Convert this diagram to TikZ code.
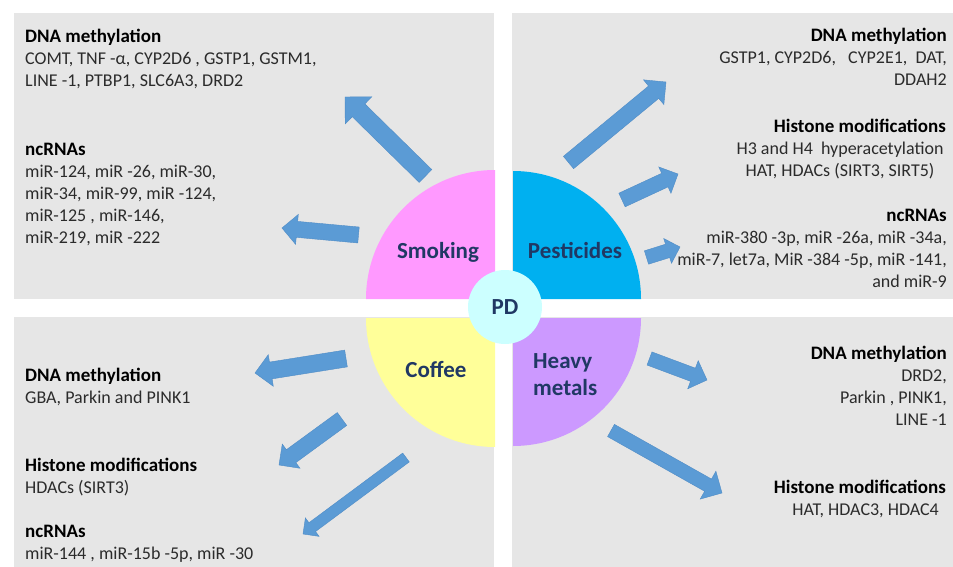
\documentclass[tikz,border=0pt]{standalone}
\usepackage{fontspec}
\setmainfont{Carlito}
\usetikzlibrary{calc}

\definecolor{panelgray}{HTML}{E6E6E6}
\definecolor{smokepink}{HTML}{FF99FF}
\definecolor{pestblue}{HTML}{00B0F0}
\definecolor{coffeeyellow}{HTML}{FFFF99}
\definecolor{metalpurple}{HTML}{CC99FF}
\definecolor{pdcyan}{HTML}{CCFFFF}
\definecolor{arrowblue}{HTML}{5B9BD5}
\definecolor{arrowedge}{HTML}{4F8CC6}
\definecolor{labelnavy}{HTML}{203864}
\definecolor{bodygray}{HTML}{2B2B2B}

\newcommand{\headtxt}[1]{{\fontsize{19}{22}\selectfont\bfseries\color{black}#1}}

% tail, tip, half shaft width, half head width
\newcommand{\blockarrow}[4]{%
	\coordinate (hb) at ($(#2)!#4!(#1)$);
	\filldraw[bluearrow] ($(#1)!#3!90:(#2)$) -- ($(hb)!#3!90:(#2)$) -- ($(hb)!#4!90:(#2)$) -- (#2)
		-- ($(hb)!#4!-90:(#2)$) -- ($(hb)!#3!-90:(#2)$) -- ($(#1)!#3!-90:(#2)$) -- cycle;
}

\begin{document}
\begin{tikzpicture}[x=1pt, y=-1pt,
	panel/.style={fill=panelgray},
	bluearrow/.style={fill=arrowblue, draw=arrowedge, line width=0.4pt},
	factor/.style={font=\fontsize{23}{27}\selectfont\bfseries, text=labelnavy, inner sep=0pt},
	listtext/.style={font=\fontsize{18}{22}\selectfont, text=bodygray, inner sep=0pt}]
	
	\useasboundingbox (0,0) rectangle (953,567);
	
	\fill[panel] (14,13) rectangle (494,299);
	\fill[panel] (512,13) rectangle (953,299);
	\fill[panel] (14,317) rectangle (494,567);
	\fill[panel] (512,317) rectangle (953,567);
	
	\fill[smokepink] (495,299) -- (366,299) arc[start angle=180, end angle=90, radius=129pt] -- cycle;
	\fill[pestblue] (513,299) -- (513,171) arc[start angle=90, end angle=0, radius=128pt] -- cycle;
	\fill[coffeeyellow] (495,318) -- (366,318) arc[start angle=180, end angle=270, radius=129pt] -- cycle;
	\fill[metalpurple] (513,318) -- (641,318) arc[start angle=0, end angle=-90, radius=128pt] -- cycle;
	
	\node[factor, anchor=base] (smoking) at (438,258) {Smoking};
	\node[factor, anchor=base] (pesticides) at (575,258) {Pesticides};
	\node[factor, anchor=base] (coffee) at (436,377) {Coffee};
	\node[factor, anchor=base west, align=left] (metals) at (533,395) {Heavy\\metals};
	\node[factor, circle, fill=pdcyan, minimum size=74pt] (pd) at (505,307) {PD};
	
	\coordinate (smoke1tail) at (425.5,176);
	\coordinate (smoke1tip) at (345,97);
	\coordinate (smoke2tail) at (358.5,235);
	\coordinate (smoke2tip) at (282,228);
	\coordinate (pest1tail) at (568.5,162.5);
	\coordinate (pest1tip) at (666,82);
	\coordinate (pest2tail) at (622,200);
	\coordinate (pest2tip) at (678,174);
	\coordinate (pest3tail) at (646.5,257.5);
	\coordinate (pest3tip) at (680,247);
	\coordinate (coffee1tail) at (346,358.5);
	\coordinate (coffee1tip) at (255,373);
	\coordinate (coffee2tail) at (342,419);
	\coordinate (coffee2tip) at (279,465);
	\coordinate (coffee3tail) at (406,457.5);
	\coordinate (coffee3tip) at (303,534);
	\coordinate (metal1tail) at (649.5,358.5);
	\coordinate (metal1tip) at (707,380);
	\coordinate (metal2tail) at (611,430.5);
	\coordinate (metal2tip) at (722,493);
	
	\blockarrow{smoke1tail}{smoke1tip}{9pt}{19pt}
	\blockarrow{smoke2tail}{smoke2tip}{8pt}{15pt}
	\blockarrow{pest1tail}{pest1tip}{8pt}{16pt}
	\blockarrow{pest2tail}{pest2tip}{7.5pt}{14.5pt}
	\blockarrow{pest3tail}{pest3tip}{7pt}{13pt}
	\blockarrow{coffee1tail}{coffee1tip}{8.5pt}{16pt}
	\blockarrow{coffee2tail}{coffee2tip}{8pt}{15pt}
	\blockarrow{coffee3tail}{coffee3tip}{5.5pt}{11.5pt}
	\blockarrow{metal1tail}{metal1tip}{7pt}{15pt}
	\blockarrow{metal2tail}{metal2tip}{7pt}{16pt}
	
	% base anchors sit on the last line
	\node[listtext, align=left, anchor=base west] (smokedna) at (25,87)
		{\headtxt{DNA methylation}\\COMT, TNF -α, CYP2D6 , GSTP1, GSTM1,\\LINE -1, PTBP1, SLC6A3, DRD2};
	\node[listtext, align=left, anchor=base west] (smokenc) at (25,243)
		{\headtxt{ncRNAs}\\miR-124, miR -26, miR-30,\\miR-34, miR-99, miR -124,\\miR-125 , miR-146,\\miR-219, miR -222};
	
	\node[listtext, align=right, anchor=base east] (pestdna) at (947,86)
		{\headtxt{DNA methylation}\\GSTP1, CYP2D6,~~ CYP2E1,~ DAT,\\DDAH2};
	\node[listtext, anchor=base east] (pesthist) at (946,132) {\headtxt{Histone modifications}};
	\node[listtext, align=center, anchor=base] (pesthat) at (840,176)
		{H3 and H4~ hyperacetylation\\HAT, HDACs (SIRT3, SIRT5)};
	\node[listtext, align=right, anchor=base east] (pestnc) at (947,287)
		{\headtxt{ncRNAs}\\miR-380 -3p, miR -26a, miR -34a,\\miR-7, let7a, MiR -384 -5p, miR -141,\\and miR-9};
	
	\node[listtext, align=left, anchor=base west] (coffeedna) at (25,403)
		{\headtxt{DNA methylation}\\GBA, Parkin and PINK1};
	\node[listtext, align=left, anchor=base west] (coffeehist) at (25,493)
		{\headtxt{Histone modifications}\\HDACs (SIRT3)};
	\node[listtext, align=left, anchor=base west] (coffeenc) at (25,559)
		{\headtxt{ncRNAs}\\miR-144 , miR-15b -5p, miR -30};
	
	\node[listtext, align=right, anchor=base east] (metaldna) at (947,425)
		{\headtxt{DNA methylation}\\DRD2,\\Parkin , PINK1,\\LINE -1};
	\node[listtext, align=right, anchor=base east] (metalhist) at (946,515)
		{\headtxt{Histone modifications}\\HAT, HDAC3, HDAC4\hspace*{7pt}};
	
\end{tikzpicture}
\end{document}
